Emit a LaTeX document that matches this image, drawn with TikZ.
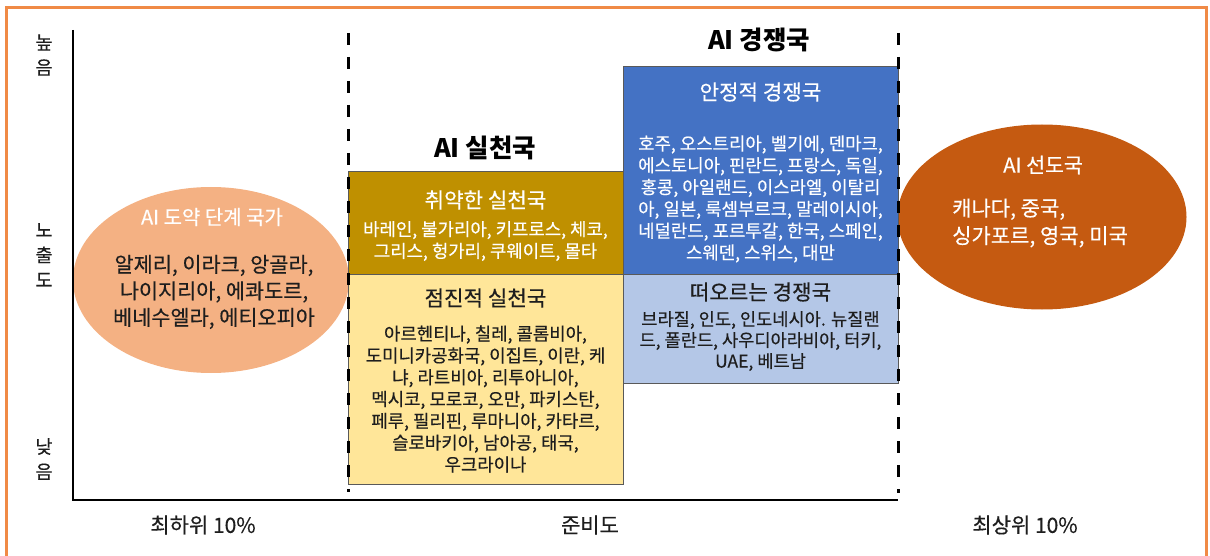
\documentclass[tikz,border=0pt]{standalone}
\usepackage{fontspec}
\setmainfont{Noto Sans CJK KR}[UprightFeatures={FakeBold=0.35}]
\usetikzlibrary{shapes.geometric}
\definecolor{frameor}{RGB}{240,138,70}
\definecolor{gold}{RGB}{191,144,0}
\definecolor{lyellow}{RGB}{255,230,153}
\definecolor{blue1}{RGB}{68,114,196}
\definecolor{lblue}{RGB}{180,199,231}
\definecolor{peach}{RGB}{244,177,131}
\definecolor{rust}{RGB}{197,90,17}
\definecolor{ink}{RGB}{30,30,30}
\newcommand\myfs[2]{\fontsize{#1}{#2}\selectfont}
\tikzset{
  frame/.style={draw=frameor, line width=3pt},
  axis/.style={draw=black, line width=2pt},
  divider/.style={draw=black, line width=3pt, dash pattern=on 12pt off 12pt},
  box/.style={draw=black!65, line width=0.8pt, inner sep=0pt, anchor=north west, minimum width=275pt},
  blob/.style={ellipse, inner sep=0pt},
  ttl/.style={inner sep=0pt, font=\myfs{21.2}{24}},
  lst/.style={inner sep=0pt, align=center, font=\myfs{17.8}{21.8}},
  big/.style={inner sep=0pt, font=\myfs{25.5}{28}\bfseries, text=black},
  ylab/.style={inner sep=0pt, align=center, font=\myfs{18.5}{25}, text=ink},
  xlab/.style={inner sep=0pt, font=\myfs{21}{24}, text=ink}
}
\begin{document}
\begin{tikzpicture}[x=1pt,y=-1pt]
\useasboundingbox (0,0) rectangle (1210,556);
% outer frame
\draw[frame] (6,570) -- (6,8) -- (1206,8) -- (1206,570);

% ellipses
\node[blob, fill=peach, minimum width=276pt, minimum height=186pt] (leap) at (211,280) {};
\node[blob, fill=rust, minimum width=289pt, minimum height=185pt] (lead) at (1042,217) {};

% boxes
\node[box, fill=gold, minimum height=103pt] (weak) at (348,171) {};
\node[box, fill=lyellow, minimum height=210pt] (grad) at (348,274) {};
\node[box, fill=blue1, minimum height=208pt] (stable) at (623,66) {};
\node[box, fill=lblue, minimum height=109pt] (emerg) at (623,274) {};

% axes
\coordinate (ytop) at (73,30);
\coordinate (orig) at (73,500);
\coordinate (xend) at (898,500);
\draw[axis] (ytop) -- (orig) -- (xend);

% dividers
\coordinate (d1t) at (348,33);
\coordinate (d1b) at (348,492);
\coordinate (d2t) at (898,33);
\coordinate (d2b) at (898,493);
\draw[divider] (d1t) -- (d1b);
\draw[divider] (d2t) -- (d2b);

% group titles
\node[big] (tprac) at (485,148) {AI 실천국};
\node[big] (tcomp) at (759,40) {AI 경쟁국};

% weak practitioners
\node[ttl, text=white] (weakT) at (485.5,200) {취약한 실천국};
\node[lst, text=white] (weakL) at (485.5,241) {바레인, 불가리아, 키프로스, 체코,\\그리스, 헝가리, 쿠웨이트, 몰타};

% gradual practitioners
\node[ttl, text=ink] (gradT) at (485.5,298) {점진적 실천국};
\node[lst, text=ink] (gradL) at (485.5,399) {아르헨티나, 칠레, 콜롬비아,\\도미니카공화국, 이집트, 이란, 케\\냐, 라트비아, 리투아니아,\\멕시코, 모로코, 오만, 파키스탄,\\페루, 필리핀, 루마니아, 카타르,\\슬로바키아, 남아공, 태국,\\우크라이나};

% stable competitors
\node[ttl, text=white] (stabT) at (760.5,92) {안정적 경쟁국};
\node[lst, text=white] (stabL) at (760.5,199) {호주, 오스트리아, 벨기에, 덴마크,\\에스토니아, 핀란드, 프랑스, 독일,\\홍콩, 아일랜드, 이스라엘, 이탈리\\아, 일본, 룩셈부르크, 말레이시아,\\네덜란드, 포르투갈, 한국, 스페인,\\스웨덴, 스위스, 대만};

% emerging competitors
\node[ttl, text=ink] (emT) at (760.5,292) {떠오르는 경쟁국};
\node[lst, text=ink, font=\myfs{17.6}{21}] (emL) at (760.5,341) {브라질, 인도, 인도네시아. 뉴질랜\\드, 폴란드, 사우디아라비아, 터키,\\UAE, 베트남};

% leap stage
\node[ttl, text=white, font=\myfs{20}{24}] (leapT) at (212,217) {AI 도약 단계 국가};
\node[lst, text=ink, font=\myfs{20.8}{26.5}] (leapL) at (214,292) {알제리, 이라크, 앙골라,\\나이지리아, 에콰도르,\\베네수엘라, 에티오피아};

% leaders
\node[ttl, text=white, font=\myfs{20.5}{24}] (leadT) at (1043,165) {AI 선도국};
\node[lst, text=white, align=left, anchor=west, font=\myfs{21}{27.5}] (leadL) at (952,223) {캐나다, 중국,\\싱가포르, 영국, 미국};

% axis labels
\node[ylab] (yhi) at (44,55) {높\\음};
\node[ylab] (ymid) at (44,255) {노\\출\\도};
\node[ylab] (ylo) at (44,459) {낮\\음};
\node[xlab] (xlo) at (203,525) {최하위 10\%};
\node[xlab] (xmid) at (590,525) {준비도};
\node[xlab] (xhi) at (1025,525) {최상위 10\%};
\end{tikzpicture}
\end{document}
